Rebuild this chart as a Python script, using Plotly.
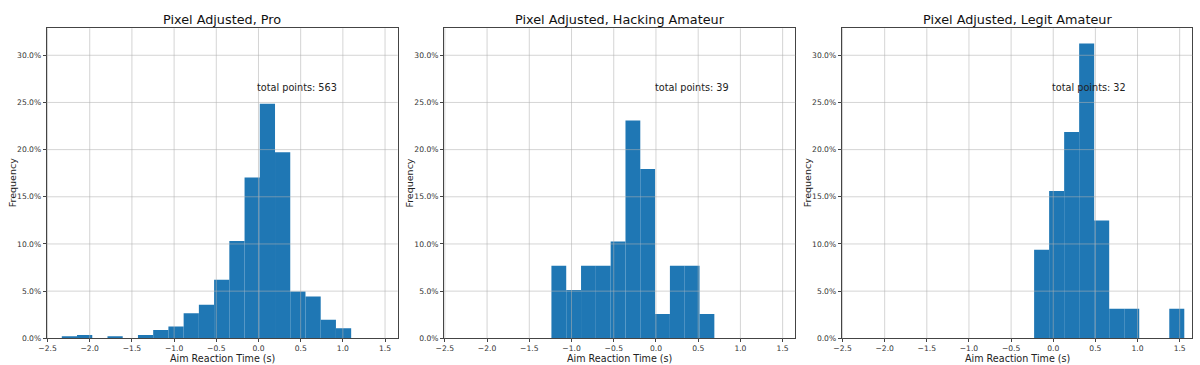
import plotly.graph_objects as go

# ---- data ----
titles = ["Pixel Adjusted, Pro", "Pixel Adjusted, Hacking Amateur", "Pixel Adjusted, Legit Amateur"]

pro_counts = [1, 2, 0, 1, 0, 2, 5, 7, 15, 20, 35, 58, 96, 140, 111, 28, 25, 11, 6]
pro_bin_start = -2.331
pro_bin_width = 0.1805

hack_counts = [3, 2, 3, 3, 4, 9, 7, 1, 3, 3, 1]
hack_bin_start = -1.238
hack_bin_width = 0.1754

legit_counts = [3, 5, 7, 10, 4, 1, 1, 0, 0, 1]
legit_bin_start = -0.227
legit_bin_width = 0.1782

x_ticks = [-2.5, -2.0, -1.5, -1.0, -0.5, 0.0, 0.5, 1.0, 1.5]
y_ticks = [0.0, 0.05, 0.10, 0.15, 0.20, 0.25, 0.30]
x_range = [-2.51, 1.65]
y_range = [0.0, 0.3286]
note_x = 0.0
note_y = 0.266

panels = [
    (pro_counts, pro_bin_start, pro_bin_width),
    (hack_counts, hack_bin_start, hack_bin_width),
    (legit_counts, legit_bin_start, legit_bin_width),
]

# ---- layout geometry (pixels in a 1200x365 canvas) ----
W, H = 1200, 365
x_domains_px = [(46.7, 397.7), (444.0, 795.3), (841.7, 1192.3)]
y_domain_px = (28.3, 338.3)  # top, bottom

FONT = "DejaVu Sans"
BAR_COLOR = "#1f77b4"
GRID_COLOR = "rgba(176,176,176,0.55)"
SPINE_COLOR = "#444444"

fig = go.Figure()
layout = dict(
    width=W, height=H,
    margin=dict(l=0, r=0, t=0, b=0, autoexpand=False),
    paper_bgcolor="white", plot_bgcolor="white",
    showlegend=False,
    font=dict(family=FONT, color="#222222"),
)
annotations = []
shapes = []

for i, (counts, start, width) in enumerate(panels):
    n = i + 1
    xa = "x" if n == 1 else f"x{n}"
    ya = "y" if n == 1 else f"y{n}"
    total = sum(counts)
    centers = [start + width * (k + 0.5) for k in range(len(counts))]
    freqs = [c / total for c in counts]
    fig.add_trace(go.Bar(
        x=centers, y=freqs, width=[width] * len(counts),
        marker=dict(color=BAR_COLOR, line=dict(width=0)),
        xaxis=xa, yaxis=ya, hoverinfo="skip",
    ))
    x0p, x1p = x_domains_px[i]
    layout[f"xaxis{'' if n == 1 else n}"] = dict(
        domain=[x0p / W, x1p / W], anchor=ya, range=x_range,
        tickmode="array", tickvals=x_ticks, tickformat=".1f",
        ticks="outside", ticklen=3, tickwidth=0.8, tickcolor=SPINE_COLOR,
        tickfont=dict(size=7.6, color="#333333", family=FONT),
        showgrid=False, zeroline=False, automargin=False,
        showline=True, linecolor=SPINE_COLOR, linewidth=1, mirror=True,
        fixedrange=True,
    )
    layout[f"yaxis{'' if n == 1 else n}"] = dict(
        domain=[1 - y_domain_px[1] / H, 1 - y_domain_px[0] / H], anchor=xa,
        range=y_range,
        tickmode="array", tickvals=y_ticks, tickformat=".1%",
        ticks="outside", ticklen=3, tickwidth=0.8, tickcolor=SPINE_COLOR,
        tickfont=dict(size=7.6, color="#333333", family=FONT),
        showgrid=False, zeroline=False, automargin=False,
        showline=True, linecolor=SPINE_COLOR, linewidth=1, mirror=True,
        fixedrange=True,
    )
    # grid lines drawn above bars (as in the reference)
    for xv in x_ticks:
        shapes.append(dict(type="line", xref=xa, yref=f"{ya} domain",
                           x0=xv, x1=xv, y0=0, y1=1, layer="above",
                           line=dict(color=GRID_COLOR, width=1)))
    for yv in y_ticks[1:]:
        shapes.append(dict(type="line", xref=f"{xa} domain", yref=ya,
                           x0=0, x1=1, y0=yv, y1=yv, layer="above",
                           line=dict(color=GRID_COLOR, width=1)))
    # subplot title
    annotations.append(dict(text=titles[i], xref=f"{xa} domain", yref=f"{ya} domain",
                            x=0.5, y=1, yshift=8.5, xanchor="center", yanchor="middle",
                            showarrow=False, font=dict(size=12.8, color="#111111", family=FONT)))
    # axis titles
    annotations.append(dict(text="Aim Reaction Time (s)", xref=f"{xa} domain", yref=f"{ya} domain",
                            x=0.5, y=0, yshift=-20.5, xanchor="center", yanchor="middle",
                            showarrow=False, font=dict(size=9.6, color="#222222", family=FONT)))
    annotations.append(dict(text="Frequency", xref=f"{xa} domain", yref=f"{ya} domain",
                            x=0, y=0.5, xshift=-34.7, xanchor="center", yanchor="middle",
                            textangle=-90, showarrow=False,
                            font=dict(size=9.5, color="#222222", family=FONT)))
    # total points note
    annotations.append(dict(text=f"total points: {total}", xref=xa, yref=ya,
                            x=note_x, y=note_y, xshift=-3, xanchor="left", yanchor="middle",
                            showarrow=False, font=dict(size=9.7, color="#222222", family=FONT)))

layout["annotations"] = annotations
layout["shapes"] = shapes
fig.update_layout(**layout)
fig.write_html("out.html")
